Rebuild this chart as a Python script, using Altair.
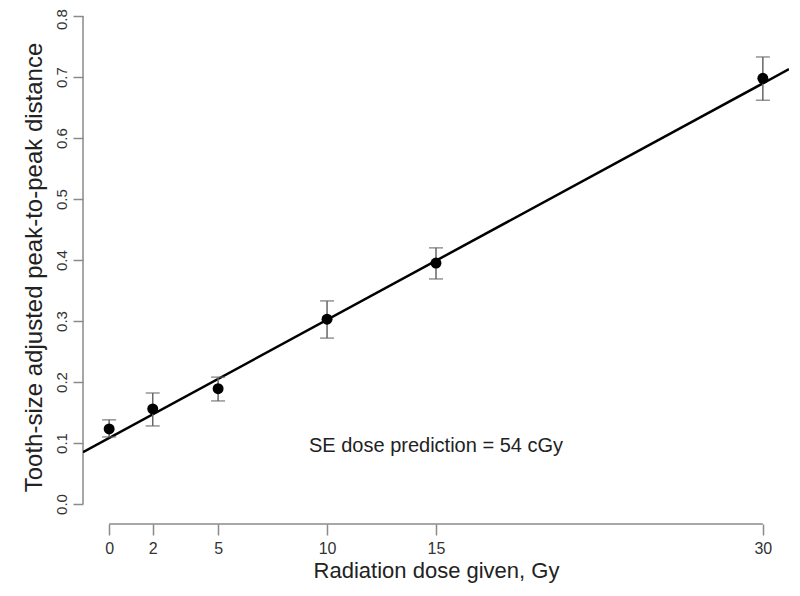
import altair as alt
import pandas as pd

# Data
dose = [0, 2, 5, 10, 15, 30]
mean_val = [0.123, 0.156, 0.189, 0.303, 0.395, 0.698]
err_low = [0.110, 0.128, 0.169, 0.272, 0.369, 0.662]
err_high = [0.138, 0.182, 0.208, 0.333, 0.420, 0.733]

# Fitted regression line end points (across the plot region)
fit_x = [-1.2, 31.2]
fit_y = [0.085, 0.713]

x_ticks = [0, 2, 5, 10, 15, 30]
y_ticks = [0.0, 0.1, 0.2, 0.3, 0.4, 0.5, 0.6, 0.7, 0.8]

annotation = "SE dose prediction = 54 cGy"
ann_x = [15.0]
ann_y = [0.095]

W, H = 706, 514
FONT = "Liberation Sans"
GRAY = "#8a8a8a"

df = pd.DataFrame({"dose": dose, "mean": mean_val, "lo": err_low, "hi": err_high})
fit_df = pd.DataFrame({"dose": fit_x, "val": fit_y})
ann_df = pd.DataFrame({"dose": ann_x, "val": ann_y, "txt": [annotation]})
xaxis_df = pd.DataFrame({"a": [min(x_ticks)], "b": [max(x_ticks)]})
yaxis_df = pd.DataFrame({"a": [min(y_ticks)], "b": [max(y_ticks)]})

xscale = alt.Scale(domain=[-1.2, 31.2], nice=False, zero=False)
yscale = alt.Scale(domain=[-0.0328, 0.81], nice=False, zero=False)

xaxis = alt.Axis(
    values=x_ticks, domain=False, grid=False, tickColor=GRAY, tickWidth=1.5,
    tickSize=11, labelFont=FONT, labelFontSize=16, labelColor="#333333",
    labelPadding=5, title="Radiation dose given, Gy", titleFont=FONT,
    titleFontSize=22, titleFontWeight="normal", titleColor="#222222",
    titlePadding=4, labelFlush=False,
)
yaxis = alt.Axis(
    values=y_ticks, format=".1f", domain=False, grid=False, tickColor=GRAY,
    tickWidth=1.5, tickSize=10, labelFont=FONT, labelFontSize=15,
    labelColor="#333333", labelAngle=-90, labelAlign="center",
    labelBaseline="bottom", labelPadding=4,
    labelOffset={"expr": "datum.value >= 0.79 ? 3 : 0"},
    title="Tooth-size adjusted peak-to-peak distance", titleFont=FONT,
    titleFontSize=24, titleFontWeight="normal", titleColor="#222222",
    titlePadding=8,
)

base = alt.Chart(df)

# axes frame (domain lines spanning only the tick range, R style)
axes_pts = alt.Chart(df).mark_point(opacity=0).encode(
    x=alt.X("dose:Q", scale=xscale, axis=xaxis),
    y=alt.Y("mean:Q", scale=yscale, axis=yaxis),
)
x_line = alt.Chart(xaxis_df).mark_rule(color=GRAY, strokeWidth=1.5).encode(
    x=alt.X("a:Q", scale=xscale), x2="b:Q", y=alt.value(H)
)
y_line = alt.Chart(yaxis_df).mark_rule(color=GRAY, strokeWidth=1.5).encode(
    y=alt.Y("a:Q", scale=yscale), y2="b:Q", x=alt.value(0)
)

fit = alt.Chart(fit_df).mark_line(color="black", strokeWidth=2.5, clip=True).encode(
    x=alt.X("dose:Q", scale=xscale), y=alt.Y("val:Q", scale=yscale)
)

err = base.mark_rule(color="#666666", strokeWidth=1.5).encode(
    x=alt.X("dose:Q", scale=xscale), y=alt.Y("lo:Q", scale=yscale), y2="hi:Q"
)
cap_lo = base.mark_tick(color="#666666", orient="horizontal", size=14, thickness=1.5).encode(
    x=alt.X("dose:Q", scale=xscale), y=alt.Y("lo:Q", scale=yscale)
)
cap_hi = base.mark_tick(color="#666666", orient="horizontal", size=14, thickness=1.5).encode(
    x=alt.X("dose:Q", scale=xscale), y=alt.Y("hi:Q", scale=yscale)
)
pts = base.mark_circle(color="black", size=120, opacity=1).encode(
    x=alt.X("dose:Q", scale=xscale), y=alt.Y("mean:Q", scale=yscale)
)

text = alt.Chart(ann_df).mark_text(
    font=FONT, fontSize=20, color="#222222", align="center", baseline="middle"
).encode(
    x=alt.X("dose:Q", scale=xscale), y=alt.Y("val:Q", scale=yscale), text="txt:N"
)

chart = alt.layer(
    axes_pts, x_line, y_line, fit, err, cap_lo, cap_hi, pts, text
).properties(
    width=W, height=H,
    autosize=alt.AutoSizeParams(type="none"),
    padding={"left": 75, "top": 2, "right": 3, "bottom": 64},
    background="white",
).configure_view(stroke=None)

chart.save("out.html", embed_options={"renderer": "svg", "actions": False})
